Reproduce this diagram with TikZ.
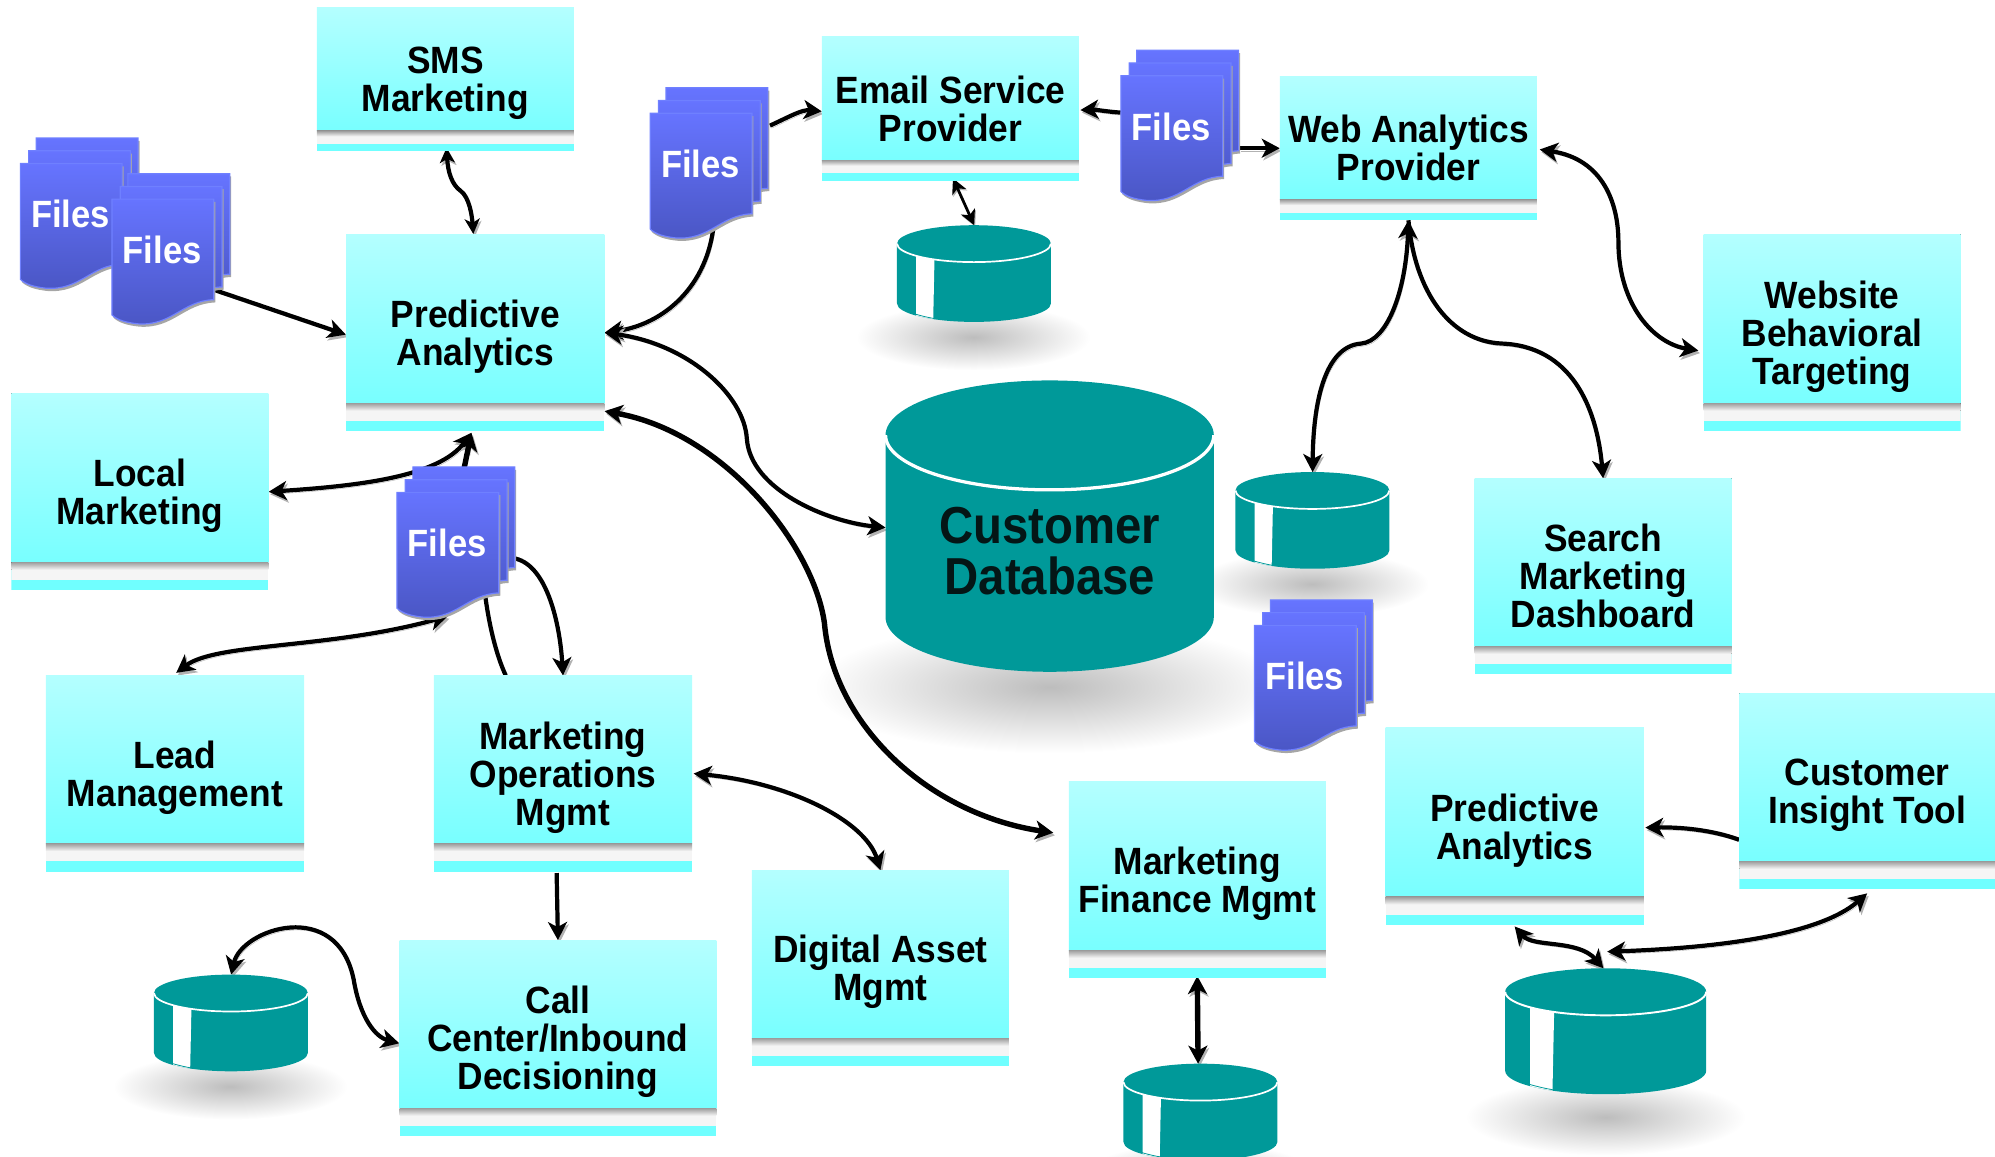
\documentclass[tikz,border=0pt]{standalone}
\usepackage{fontspec}
\usetikzlibrary{arrows.meta,calc}
\newfontfamily\boxfam[FakeStretch=0.93]{Liberation Sans}
\newfontfamily\filefam[FakeStretch=0.91]{Liberation Sans}
\newfontfamily\dbfam[FakeStretch=0.91]{Liberation Sans}
\definecolor{cyt}{HTML}{B4FFFF}
\definecolor{cyb}{HTML}{78FFFF}
\definecolor{cys}{HTML}{70FFFF}
\definecolor{tealc}{HTML}{009999}
\definecolor{doct}{HTML}{6674FF}
\definecolor{docb}{HTML}{4A56C4}
\definecolor{docl}{HTML}{6F80FF}
\definecolor{inkc}{HTML}{041616}
\pgfdeclarelayer{shade}
\pgfdeclarelayer{conn}
\pgfsetlayers{shade,conn,main}
\tikzset{
  Tp/.tip={Stealth[length=18pt,width=19pt,inset=5pt]},
  Ts/.tip={Stealth[length=15pt,width=15pt,inset=4pt]},
  conn/.style={line width=4.2pt,black,
    preaction={draw=gray!60,transform canvas={shift={(1.6pt,-2.6pt)}}}},
  thin conn/.style={line width=2.8pt,black,
    preaction={draw=gray!60,transform canvas={shift={(1pt,-1.5pt)}}}},
  thick conn/.style={line width=5.4pt,black,
    preaction={draw=gray!60,transform canvas={shift={(1.6pt,-2.6pt)}}}},
  cbox/.style={inner sep=0pt,
    path picture={
      \coordinate (sw) at (path picture bounding box.south west);
      \coordinate (se) at (path picture bounding box.south east);
      \coordinate (nw) at (path picture bounding box.north west);
      \coordinate (ne) at (path picture bounding box.north east);
      \fill[cys] (sw) rectangle (ne);
      \fill[top color=cyt,bottom color=cyb] (nw) rectangle ($(se)!0.142!(ne)$);
      \fill[white!96!black] ($(sw)!0.142!(nw)$) rectangle ($(se)!0.052!(ne)$);
      \fill[top color=gray!75,bottom color=white!96!black] ($(sw)!0.142!(nw)$) rectangle ($(se)!0.105!(ne)$);
    }},
  boxtext/.style={inner sep=0pt,align=center,text=black,
    font=\boxfam\bfseries\fontsize{38}{38}\selectfont},
  docface/.style={draw=docl,line width=1.2pt,top color=doct,bottom color=docb},
  docshadow/.style={fill=gray!70},
  filetext/.style={inner sep=0pt,text=white,font=\filefam\bfseries\fontsize{38}{38}\selectfont},
  cylname/.style={inner sep=0pt,anchor=north west},
  dbtext/.style={inner sep=0pt,align=center,text=inkc,
    font=\dbfam\bfseries\fontsize{52}{51}\selectfont},
}
\newcommand{\cb}[7][3]{%
  \pgfmathsetmacro{\cbw}{(#5-#3)*1.2723}%
  \pgfmathsetmacro{\cbh}{(#6-#4)*1.2723}%
  \node[cbox,minimum width=\cbw pt,minimum height=\cbh pt] (#2) at ({(#3+#5)/2},{(#4+#6)/2}) {};
  \node[boxtext] (#2t) at ($(#2.center)+(0,#1)$) {#7};}
\newcommand{\docshape}{(0,0) -- (80,0) -- (80,79) .. controls (55,80) and (47,100) .. (20,98) .. controls (11,97) and (4,95) .. (0,91) -- cycle}
\newcommand{\onedoc}[2]{%
  \begin{scope}[shift={(#1,#2)}]
    \fill[docshadow,shift={(1.2,2.2)}] \docshape;
    \path[docface] \docshape;
  \end{scope}}
\newcommand{\fl}[3]{%
  \onedoc{#2+12.5}{#3-20}\onedoc{#2+6.5}{#3-10}\onedoc{#2}{#3}%
  \node[inner sep=0pt,minimum width=101.8pt,minimum height=125pt] (#1) at ({#2+40},{#3+49}) {};
  \node[filetext] (#1t) at ({#2+39.5},{#3+40}) {Files};}
% name, x0, ytop, x1, ybot, ry, stripe (1/0)
\newcommand{\cyl}[7]{%
  \pgfmathsetmacro{\cylrx}{(#4-#2)/2}%
  \pgfmathsetmacro{\cylcx}{(#4+#2)/2}%
  \pgfmathsetmacro{\cylw}{(#4-#2)*1.2723}%
  \pgfmathsetmacro{\cylh}{(#5-#3)*1.2723}%
  \pgfmathsetmacro{\cyllw}{0.9+#6*0.055}%
  \path[fill=tealc] (#2,{#3+#6}) -- (#2,{#5-#6}) arc[start angle=180,end angle=0,x radius=\cylrx,y radius=#6] -- (#4,{#3+#6}) -- cycle;
  \ifnum#7=1
    \begin{scope}
      \clip (#2,{#3+#6}) -- (#2,{#5-#6}) arc[start angle=180,end angle=0,x radius=\cylrx,y radius=#6] -- (#4,{#3+#6}) -- cycle;
      \fill[white] ({#2+0.124*(#4-#2)},#3) -- ({#2+0.248*(#4-#2)},#3) -- ({#2+0.235*(#4-#2)},#5) -- ({#2+0.124*(#4-#2)},#5) -- cycle;
    \end{scope}
    \draw[tealc,line width=.8pt] ({#2+0.12*(#4-#2)},{#5-0.42*#6}) to[bend right=3] ({#2+0.25*(#4-#2)},{#5-0.17*#6});
  \fi
  \fill[tealc] (\cylcx,{#3+#6}) ellipse[x radius=\cylrx,y radius=#6];
  \draw[white,line width=\cyllw pt] (#2,{#3+#6}) arc[start angle=180,end angle=0,x radius=\cylrx,y radius=#6];
  \node[cylname,minimum width=\cylw pt,minimum height=\cylh pt] (#1) at (#2,#3) {};}
\newcommand{\shd}[4]{%
  \begin{pgfonlayer}{shade}
    \shade[inner color=gray!52,outer color=white] (#1,#2) ellipse[x radius=#3,y radius=#4];
  \end{pgfonlayer}}
\begin{document}
\begin{tikzpicture}[x=1.2723pt,y=-1.2723pt]
\useasboundingbox (0,0) rectangle (1568,908.6);
% shadows
\shd{765}{265}{92}{26}
\shd{1031}{459}{92}{26}
\shd{181}{854}{92}{26}
\shd{943}{924}{92}{26}
\shd{1262}{878}{110}{30}
\shd{825}{540}{185}{52}
% boxes
\cb{sms}{249}{6}{451}{119}{SMS\\Marketing}
\cb{pa}{272}{184}{475}{339}{Predictive\\Analytics}
\cb[0]{esp}{646}{29}{848}{142}{Email Service\\Provider}
\cb[0]{wap}{1006}{60}{1208}{173}{Web Analytics\\Provider}
\cb{wbt}{1339}{184}{1541}{339}{Website\\Behavioral\\Targeting}
\cb{lm}{9}{309}{211}{464}{Local\\Marketing}
\cb[0]{smd}{1159}{376}{1361}{530}{Search\\Marketing\\Dashboard}
\cb{lead}{36}{531}{239}{685}{Lead\\Management}
\cb{mom}{341}{531}{544}{685}{Marketing\\Operations\\Mgmt}
\cb{cit}{1367}{545}{1568}{699}{Customer\\Insight Tool}
\cb{pb}{1089}{572}{1292}{727}{Predictive\\Analytics}
\cb{mfm}{840}{614}{1042}{769}{Marketing\\Finance Mgmt}
\cb{dam}{591}{684}{793}{838}{Digital Asset\\Mgmt}
\cb{call}{314}{739}{563}{893}{Call\\Center/Inbound\\Decisioning}
% files
\fl{fa}{16}{128.5}
\fl{fb}{88}{156.5}
\fl{fc}{511}{89}
\fl{fd}{881}{59.5}
\fl{fe}{312}{387}
\fl{ff}{986}{491.5}
% cylinders
\cyl{db}{696}{299}{954}{528}{43}{0}
\node[dbtext] (dbt) at ($(db.center)+(0,19.5)$) {Customer\\Database};
\cyl{ca}{705}{177}{826}{253}{14.5}{1}
\cyl{cb}{971}{371}{1092}{447}{14.5}{1}
\cyl{cc}{121}{766}{242}{842}{14.5}{1}
\cyl{cd}{883}{836}{1004}{912}{14.5}{1}
\cyl{ce}{1183}{761}{1341}{860}{18.5}{1}
% connectors
\begin{pgfonlayer}{conn}
\draw[conn,Ts-Ts] ($(sms.south)+(1,-3)$) .. controls (352,135) and (355,145) .. (362,150) .. controls (369,155) and (371,170) .. ($(pa.north)+(-1.5,0)$);
\draw[conn,-Tp] ($(fb.south east)+(0,-27)$) -- ($(pa.west)+(0,1.5)$);
\draw[conn,-Tp] ($(fc.south)+(10,-11)$) .. controls (556,225) and (522,255) .. (pa.east);
\draw[conn,-Tp] ($(fc.north east)+(14,10)$) .. controls (620,92) and (630,86) .. ($(esp.west)+(0,2)$);
\draw[conn,-Tp] ($(fd.west)+(0,-20)$) .. controls (872,88) and (860,86) .. ($(esp.east)+(1,1)$);
\draw[conn,-Tp] ($(fd.east)+(13,8)$) -- ($(wap.west)+(0,0)$);
\draw[thin conn,Ts-Ts] ($(esp.south)+(2,-2)$) -- (ca.north);
\draw[conn,Tp-Tp] ($(wap.east)+(2,1)$) .. controls (1260,125) and (1272,160) .. (1272,190) .. controls (1272,240) and (1300,270) .. ($(wbt.west)+(-4,14)$);
\draw[conn,Tp-Tp] (wap.south) .. controls (1105,230) and (1090,268) .. (1070,270) .. controls (1040,272) and (1032,320) .. (cb.north);
\draw[conn,-Tp] (wap.south) .. controls (1112,230) and (1140,268) .. (1180,270) .. controls (1235,272) and (1255,320) .. (smd.north);
\draw[conn,Tp-Tp] (pa.east) .. controls (540,270) and (585,310) .. (587,345) .. controls (590,385) and (650,410) .. ($(db.west)+(0,1)$);
\draw[thick conn,Tp-Tp] ($(pa.south east)+(0,-16)$) .. controls (570,340) and (640,430) .. (648,490) .. controls (655,570) and (730,640) .. ($(mfm.west)+(-12,-37)$);
\draw[conn,Tp-Tp] ($(lm.east)+(0,0)$) .. controls (280,382) and (345,375) .. ($(pa.south)+(-3,1)$);
\draw[thick conn,-Tp] ($(fe.north)+(11,-10)$) -- ($(pa.south)+(-3,1)$);
\draw[conn,Tp-Tp] ($(lead.north)+(1,-2)$) .. controls (170,505) and (260,510) .. ($(fe.south)+(0,-1)$);
\draw[conn] ($(fe.south)+(29,-20)$) .. controls (384,490) and (390,515) .. ($(mom.north)+(-45,0)$);
\draw[conn,-Tp] ($(fe.east)+(13,3)$) .. controls (430,445) and (440,490) .. (mom.north);
\draw[conn,Tp-Tp] ($(mom.east)+(1,0)$) .. controls (620,615) and (680,645) .. (dam.north);
\draw[conn,-Tp] ($(mom.south)+(-5,1)$) -- ($(call.north)+(0,0)$);
\draw[conn,Tp-Tp] (cc.north) .. controls (190,730) and (265,705) .. (278,770) .. controls (283,800) and (295,815) .. ($(call.west)+(0,4)$);
\draw[thick conn,Tp-Tp] ($(mfm.south)+(0,-2)$) -- ($(cd.north)+(-2,0)$);
\draw[conn,-Tp] ($(cit.west)+(0,38)$) .. controls (1345,652) and (1320,650) .. ($(pb.east)+(1,1)$);
\draw[conn,Tp-Tp] ($(pb.south)+(0,1)$) .. controls (1205,745) and (1240,738) .. ($(ce.north)+(-2,0)$);
\draw[conn,Tp-Tp] ($(ce.north)+(1,-13)$) .. controls (1350,745) and (1430,735) .. ($(cit.south)+(0,3)$);
\end{pgfonlayer}
\end{tikzpicture}
\end{document}
